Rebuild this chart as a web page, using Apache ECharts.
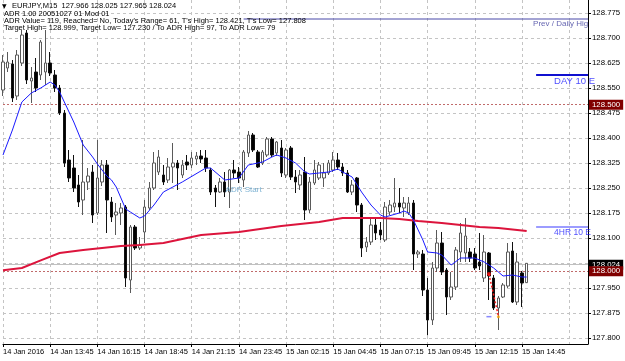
<!DOCTYPE html>
<html><head><meta charset="utf-8">
<script src="https://cdn.jsdelivr.net/npm/echarts@6/dist/echarts.min.js"></script>
<style>html,body{margin:0;padding:0;background:#fff}#c{width:625px;height:361px}</style>
</head><body><div id="c"></div>
<script>
// EURJPY M15 candles, index 0 = 14 Jan 11:15
const opens = [128.544,128.610,128.622,128.526,128.625,128.715,128.571,128.598,128.589,128.598,
128.625,128.589,128.550,128.475,128.334,128.310,128.259,128.214,128.268,128.298,
128.175,128.268,128.319,128.208,128.169,128.175,128.193,127.974,128.133,128.070,
128.118,128.190,128.250,128.298,128.289,128.274,128.313,128.325,128.289,128.328,
128.319,128.337,128.346,128.340,128.304,128.250,128.238,128.268,128.238,128.304,
128.298,128.274,128.355,128.409,128.358,128.325,128.349,128.397,128.355,128.370,
128.289,128.370,128.283,128.259,128.298,128.184,128.265,128.280,128.280,128.295,
128.304,128.334,128.313,128.295,128.238,128.280,128.199,128.073,128.088,128.139,
128.124,128.094,128.178,128.193,128.205,128.190,128.175,128.205,128.052,128.052,
127.944,127.854,128.010,128.085,128.004,127.923,127.953,128.058,128.055,128.058,
128.052,128.028,127.980,128.055,127.980,127.890,127.923,127.956,128.061,127.908,
127.995,127.966];
const closes = [128.628,128.628,128.520,128.649,128.709,128.574,128.580,128.550,128.688,128.625,
128.595,128.550,128.475,128.325,128.280,128.250,128.208,128.268,128.286,128.169,
128.280,128.319,128.214,128.163,128.178,128.190,127.980,128.133,128.070,128.079,
128.193,128.250,128.325,128.343,128.268,128.313,128.325,128.310,128.319,128.319,
128.340,128.346,128.337,128.310,128.238,128.238,128.268,128.238,128.304,128.295,
128.280,128.358,128.409,128.364,128.313,128.358,128.397,128.349,128.388,128.295,
128.364,128.283,128.268,128.289,128.184,128.268,128.304,128.319,128.295,128.325,
128.334,128.313,128.295,128.238,128.259,128.199,128.070,128.088,128.139,128.115,
128.109,128.193,128.199,128.205,128.193,128.205,128.205,128.052,128.058,127.944,
127.854,128.010,128.085,127.998,127.923,127.953,128.064,128.115,128.106,128.040,
128.010,128.016,128.058,127.986,127.890,127.920,127.959,128.058,127.908,128.028,
127.965,128.024];
const lows = [128.526,128.598,128.508,128.514,128.616,128.562,128.505,128.538,128.574,128.559,
128.586,128.538,128.469,128.313,128.268,128.238,128.193,128.169,128.244,128.145,
128.169,128.256,128.115,128.148,128.109,128.139,127.953,127.935,128.064,128.064,
128.085,128.184,128.244,128.289,128.259,128.265,128.265,128.244,128.280,128.304,
128.310,128.319,128.325,128.298,128.229,128.193,128.235,128.223,128.190,128.280,
128.265,128.253,128.343,128.358,128.310,128.319,128.343,128.343,128.346,128.283,
128.280,128.274,128.235,128.244,128.154,128.175,128.259,128.274,128.253,128.289,
128.298,128.304,128.286,128.235,128.229,128.178,128.043,128.058,128.079,128.094,
128.094,128.088,128.169,128.178,128.175,128.163,128.169,128.004,128.040,127.926,
127.808,127.839,127.998,127.989,127.869,127.914,127.944,128.028,128.028,128.028,
128.004,128.004,127.968,127.914,127.884,127.824,127.920,127.950,127.905,127.899,
127.893,127.965];
const highs = [128.649,128.658,128.634,128.664,128.724,128.724,128.613,128.640,128.694,128.724,
128.658,128.604,128.559,128.484,128.364,128.349,128.289,128.394,128.310,128.319,
128.394,128.334,128.334,128.223,128.205,128.205,128.199,128.139,128.139,128.103,
128.214,128.268,128.358,128.364,128.319,128.340,128.385,128.334,128.334,128.349,
128.358,128.358,128.364,128.364,128.310,128.259,128.280,128.298,128.307,128.334,
128.313,128.364,128.421,128.415,128.364,128.364,128.403,128.403,128.391,128.394,
128.370,128.376,128.304,128.304,128.343,128.283,128.334,128.328,128.325,128.334,
128.358,128.355,128.325,128.304,128.274,128.283,128.205,128.103,128.163,128.160,
128.148,128.208,128.214,128.280,128.250,128.223,128.223,128.214,128.064,128.064,
127.980,128.028,128.124,128.118,128.010,127.998,128.073,128.145,128.160,128.070,
128.070,128.115,128.109,128.058,127.989,127.926,127.965,128.085,128.088,128.055,
128.001,128.025];

// time labels every 10 bars
const tickLabels = ['14 Jan 2016','14 Jan 13:45','14 Jan 16:15','14 Jan 18:45','14 Jan 21:15','14 Jan 23:45',
  '15 Jan 02:15','15 Jan 04:45','15 Jan 07:15','15 Jan 09:45','15 Jan 12:15','15 Jan 14:45'];
const yTicks = [127.800,127.875,127.950,128.025,128.100,128.175,128.250,128.325,128.400,128.475,128.550,128.625,128.700,128.775];
const yLabelValues = [127.800,127.875,127.950,128.100,128.175,128.250,128.325,128.400,128.475,128.550,128.625,128.700,128.775];

// indicator lines: [bar index, price]
const fastMA = [[0,128.349],[2,128.424],[4,128.508],[6,128.535],[8,128.550],[10,128.568],[11,128.559],[12,128.538],
 [15,128.448],[17,128.379],[19,128.343],[20,128.322],[22,128.286],[23,128.274],[24,128.253],[26,128.187],[27,128.178],
 [29,128.160],[30,128.166],[32,128.199],[34,128.238],[38,128.268],[43,128.310],[44,128.310],[47,128.274],[50,128.280],
 [52,128.319],[55,128.328],[57,128.343],[58,128.349],[60,128.340],[62,128.325],[64,128.298],[65,128.292],[67,128.295],
 [69,128.298],[71,128.307],[72,128.298],[74,128.283],[76,128.238],[78,128.199],[80,128.169],[81,128.163],[84,128.175],
 [85,128.181],[86,128.175],[87,128.154],[89,128.094],[90,128.058],[92,128.055],[93,128.049],[95,128.019],[97,128.040],
 [100,128.040],[102,128.028],[104,128.010],[106,127.986],[108,127.989],[110,127.983],[111,127.983]];
const slowMA = [[0,128.003],[4,128.010],[8,128.033],[12,128.055],[17,128.064],[21,128.070],[25,128.076],[29,128.079],
 [34,128.085],[42,128.109],[50,128.118],[59,128.136],[67,128.148],[72,128.160],[76,128.160],[80,128.160],[84,128.157],
 [88,128.151],[93,128.145],[97,128.139],[101,128.133],[105,128.130],[111,128.121]];

const prevDailyHigh = 128.757, day10 = 128.589, hr4_10 = 128.133;
const bidPrice = 128.024, level500 = 128.500, level000 = 128.000;
const dayStart = 51, levelsFrom = 113, lastIndex = 124;
const adrStartPrice = 128.244;
const projFrom = [103, 127.992], projTo = [105, 127.866], projLow = 127.864;

const nCats = 125;
const cats = [];
for (let i = 0; i < nCats; i++) cats.push(String(i));
const candles = opens.map((o, i) => [o, closes[i], lows[i], highs[i]]);

const FF = '"Liberation Sans", Arial, sans-serif';
const chart = echarts.init(document.getElementById('c'));
chart.setOption({
  animation: false,
  backgroundColor: '#ffffff',
  grid: { left: 1, right: 37, top: 0, bottom: 17, show: false },
  xAxis: {
    type: 'category', data: cats, boundaryGap: false,
    axisLine: { show: true, lineStyle: { color: '#000', width: 1 } },
    axisTick: { show: true, length: 3, lineStyle: { color: '#000' },
      interval: (i) => i % 10 === 0 && i / 10 < tickLabels.length },
    axisLabel: { show: true, color: '#000', fontSize: 7.5, fontFamily: FF, align: 'left', margin: 4,
      interval: (i) => i % 10 === 0 && i / 10 < tickLabels.length,
      formatter: (v, i) => tickLabels[i / 10] || '' },
    splitLine: { show: true, interval: (i) => i % 10 === 0,
      lineStyle: { color: '#c4c4c4', type: [3, 3], width: 1 } }
  },
  yAxis: {
    type: 'value', position: 'right', min: 127.782, max: 128.814, scale: true,
    axisLine: { show: true, lineStyle: { color: '#000' } },
    axisTick: { show: true, length: 3, customValues: yTicks, lineStyle: { color: '#000' } },
    axisLabel: { show: true, customValues: yLabelValues, color: '#000', fontSize: 7.8, fontFamily: FF, margin: 4,
      formatter: (v) => v.toFixed(3) },
    splitLine: { show: true, lineStyle: { color: '#c4c4c4', type: [3, 3], width: 1 } }
  },
  series: [
    {
      type: 'candlestick', data: candles, barWidth: 3, z: 3,
      itemStyle: { color: '#ffffff', color0: '#000000', borderColor: '#5a5a5a', borderColor0: '#111111', borderWidth: 1 },
      markLine: {
        symbol: 'none', silent: true, z: 1,
        data: [
          { yAxis: bidPrice, lineStyle: { color: '#c0c0c0', type: 'solid', width: 1 },
            label: { show: true, position: 'end', distance: 1, formatter: bidPrice.toFixed(3), color: '#fff',
              backgroundColor: '#000', padding: [1, 3, 1, 3], fontSize: 7.8, fontFamily: FF } },
          { yAxis: level500, lineStyle: { color: '#c06a6a', type: [2, 2], width: 1 },
            label: { show: true, position: 'end', distance: 1, formatter: level500.toFixed(3), color: '#fff',
              backgroundColor: '#800000', padding: [1, 3, 1, 3], fontSize: 7.8, fontFamily: FF } },
          { yAxis: level000, lineStyle: { color: '#c06a6a', type: [2, 2], width: 1 },
            label: { show: true, position: 'end', distance: 1, formatter: level000.toFixed(3), color: '#fff',
              backgroundColor: '#800000', padding: [1, 3, 1, 3], fontSize: 7.8, fontFamily: FF } }
        ]
      }
    },
    { type: 'line', data: slowMA, symbol: 'none', z: 4, lineStyle: { color: '#dc143c', width: 2 } },
    { type: 'line', data: fastMA, symbol: 'none', z: 5, lineStyle: { color: '#1a1aff', width: 1 } },
    { type: 'line', data: [[dayStart, prevDailyHigh], [lastIndex, prevDailyHigh]], symbol: 'none', z: 4,
      lineStyle: { color: '#4848a8', width: 1 } },
    { type: 'line', data: [[levelsFrom, day10], [lastIndex, day10]], symbol: 'none', z: 4,
      lineStyle: { color: '#1010d0', width: 2 } },
    { type: 'line', data: [[levelsFrom, hr4_10], [lastIndex, hr4_10]], symbol: 'none', z: 4,
      lineStyle: { color: '#9c9cff', width: 2 } },
    { type: 'line', data: [projFrom, projTo], symbol: 'none', z: 6,
      lineStyle: { color: '#ff2020', width: 1.5, type: [2, 2] } },
    { type: 'scatter', z: 7, silent: true,
      data: [
        { value: projFrom, symbol: 'circle', symbolSize: 4, itemStyle: { color: '#ff1010' } },
        { value: [projTo[0], projLow], symbol: 'circle', symbolSize: 3, itemStyle: { color: '#ffa500' } },
        { value: [projFrom[0], projLow], symbol: 'rect', symbolSize: [5, 1.5], itemStyle: { color: '#6a6aff' } }
      ] },
    { type: 'scatter', z: 8, silent: true, symbolSize: 0,
      data: [
        { value: [dayStart, adrStartPrice], label: { show: true, position: 'inside', formatter: 'ADR Start',
            color: '#5b9fc8', fontSize: 8, fontFamily: FF } },
        { value: [levelsFrom, prevDailyHigh], label: { show: true, position: 'right', distance: 0, offset: [-3, 5],
            formatter: 'Prev / Daily Hig', color: '#3c3c9c', fontSize: 8, fontFamily: FF } },
        { value: [levelsFrom, day10], label: { show: true, position: 'right', distance: 0, offset: [18, 6],
            formatter: 'DAY 10 E', color: '#1a1aff', fontSize: 9.5, fontFamily: FF } },
        { value: [levelsFrom, hr4_10], label: { show: true, position: 'right', distance: 0, offset: [18, 6],
            formatter: '4HR 10 E', color: '#1a1aff', fontSize: 8.5, fontFamily: FF } }
      ] }
  ],
  graphic: [
    { type: 'text', x: 2, y: 6, z: 100, style: { text: '▼', fontSize: 6, fontFamily: '"DejaVu Sans"', fill: '#000', verticalAlign: 'middle' } },
    { type: 'text', x: 12, y: 6, z: 100, style: { text: 'EURJPY,M15  127.966 128.025 127.965 128.024', fontSize: 7.5, fontFamily: FF, fill: '#000', verticalAlign: 'middle' } },
    { type: 'text', x: 4, y: 14, z: 100, style: { text: 'ADR 1.00 20051027 01 Mod 01', fontSize: 7.5, fontFamily: FF, fill: '#000', verticalAlign: 'middle' } },
    { type: 'text', x: 4, y: 21, z: 100, style: { text: "ADR Value= 119, Reached= No, Today's Range= 61, T's High= 128.421, T's Low= 127.808", fontSize: 7.5, fontFamily: FF, fill: '#000', verticalAlign: 'middle' } },
    { type: 'text', x: 4, y: 28, z: 100, style: { text: 'Target High= 128.999, Target Low= 127.230 / To ADR High= 97, To ADR Low= 79', fontSize: 7.5, fontFamily: FF, fill: '#000', verticalAlign: 'middle' } }
  ]
});
</script></body></html>
